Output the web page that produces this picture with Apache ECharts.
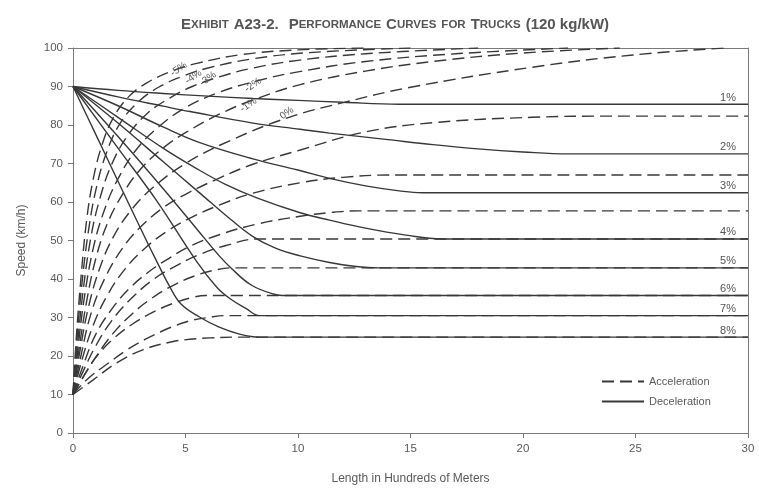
<!DOCTYPE html>
<html>
<head>
<meta charset="utf-8">
<script src="https://cdn.jsdelivr.net/npm/echarts@6/dist/echarts.min.js"></script>
<style>html,body{margin:0;padding:0;background:#fff}#c{width:759px;height:492px}</style>
</head>
<body>
<div id="c"></div>
<script>
// ---- Deceleration curves (solid), speed km/h vs length (hundreds of m)
const decGrades = ['1%','2%','3%','4%','5%','6%','7%','8%'];
const dec1 = [[0,90],[2,89],[4,88.2],[6,87.5],[8,86.9],[10,86.4],[12,85.9],[14.5,85.4],[30,85.4]];
const dec2 = [[0,90],[2,87.3],[4,84.9],[5.2,83.5],[8,80.5],[10.1,78.9],[11.4,77.9],[14,76.2],[16,74.9],[18,73.8],[20,73],[22,72.5],[30,72.5]];
const dec3 = [[0,90],[2,85],[4,79.5],[5.6,75.5],[8,71.2],[10,68.3],[11.5,66],[13,64.2],[14.5,62.9],[15.5,62.4],[30,62.4]];
const dec4 = [[0,90],[2,82],[4,74],[5.4,69],[6.8,64.5],[8.2,61],[10.1,57.2],[11.4,55.3],[13,53.2],[14.8,51.4],[16.4,50.4],[30,50.4]];
const dec5 = [[0,90],[2,80.5],[4,70.5],[5.6,62.5],[7,55.5],[8,51],[9,48],[10.1,46],[11.4,44.3],[12.5,43.3],[13.6,42.9],[30,42.9]];
const dec6 = [[0,90],[2,77],[4,63.5],[5.5,53],[6.5,46],[7,43],[7.9,38.5],[8.9,36.1],[9.5,35.7],[30,35.7]];
const dec7 = [[0,90],[2,74],[3.7,60.5],[5.5,44.5],[6.4,37.8],[7,34.8],[7.7,32.3],[8.3,30.5],[30,30.5]];
const dec8 = [[0,90],[1,77.7],[2,65.4],[3,53.2],[3.6,46],[4.3,38],[4.8,33.5],[5.6,30.2],[6.5,27.5],[7.4,25.7],[8.3,24.9],[30,24.9]];
const decSeries = [dec1,dec2,dec3,dec4,dec5,dec6,dec7,dec8];

// ---- Acceleration curves (dashed)
const accGrades = ['-5%','-4%','-3%','-2%','-1%','0%','1%','2%','3%','4%','5%','6%','7%','8%'];
const accM5 = [[0,10],[0.15,25],[0.35,40],[0.6,55],[0.9,66],[1.3,75],[1.8,82],[2.5,87.5],[3.3,91],[4.3,93.8],[5.5,96],[7.5,98.3],[10,99.5],[13,100]];
const accM4 = [[0,10],[0.17,24],[0.4,39],[0.7,53],[1.05,64],[1.5,73],[2.1,80.5],[2.9,86],[3.8,89.8],[4.8,92.5],[6,94.8],[8,97.2],[10.5,98.8],[15,100]];
const accM3 = [[0,10],[0.2,23],[0.45,37],[0.8,51],[1.2,61],[1.7,69.5],[2.4,77],[3.3,83],[4.3,87],[5.3,90],[6.5,92.5],[8,94.8],[10,96.8],[13,98.5],[18,100]];
const accM2 = [[0,10],[0.22,22],[0.5,35],[0.9,48],[1.4,58],[2,66],[2.8,73.5],[3.8,79.5],[5,84.5],[6.5,88.5],[8.2,91.5],[10,93.8],[13,96.5],[17,98.5],[22,100]];
const accM1 = [[0,10],[0.25,21],[0.6,34],[1,45],[1.5,54],[2.2,62],[3,68.5],[4,74],[5,78],[6.5,82.8],[8,86.5],[10.1,90.5],[13,94],[16,96.5],[20,98.7],[24.3,100]];
const acc0 = [[0,10],[0.3,21],[0.7,33],[1.2,43],[1.8,51],[2.6,58],[3.5,63.5],[5,70],[7,76],[9.6,82],[12,85.8],[15,89.8],[20.4,95],[24.9,98.2],[29,100]];
const acc1 = [[0,10],[0.35,20],[0.8,31],[1.4,40],[2.2,48],[3,53.5],[4,58.5],[5,62],[6.5,66.2],[8,69.8],[10.1,73.5],[13,78.2],[16,80.6],[20.4,82],[24,82.3],[30,82.3]];
const acc2 = [[0,10],[0.4,19],[0.9,28],[1.5,35.5],[2.3,42.5],[3.2,48],[4.2,52.5],[5.2,55.8],[6.5,59.2],[8,62.3],[10.1,65],[12,66.4],[14,67],[30,67]];
const acc3 = [[0,10],[0.45,17.5],[1,25.5],[1.7,32],[2.5,37.5],[3.4,42],[4.3,45.5],[5.2,48.5],[6.5,51.5],[8.2,54.3],[10.1,56.3],[11.5,57.3],[12.7,57.7],[30,57.7]];
const acc4 = [[0,10],[0.45,16],[1,22.5],[1.7,29],[2.6,35],[3.6,40],[4.6,43.5],[5.6,46.3],[6.8,48.7],[8.2,50.4],[30,50.4]];
const acc5 = [[0,10],[0.5,15],[1.1,20.5],[1.8,26],[2.6,30.8],[3.5,35],[4.5,38.5],[5.5,41],[6.3,42.3],[7.1,42.9],[30,42.9]];
const acc6 = [[0,10],[0.45,14.5],[1,19.5],[1.8,24.5],[2.7,28.5],[3.7,31.8],[4.6,34],[5.3,35.2],[5.9,35.7],[30,35.7]];
const acc7 = [[0,10],[0.3,12],[0.8,14.8],[1.35,17.2],[2.4,21.6],[3.2,24.3],[3.9,26.3],[4.6,28],[5.3,29.3],[6,30],[6.8,30.5],[30,30.5]];
const acc8 = [[0,10],[0.9,13.8],[1.94,18.2],[3.1,21.6],[4.4,23.7],[5.3,24.4],[6.1,24.7],[7.2,24.9],[30,24.9]];
const accSeries = [accM5,accM4,accM3,accM2,accM1,acc0,acc1,acc2,acc3,acc4,acc5,acc6,acc7,acc8];

// Grade labels placed on the downgrade acceleration curves (data coords)
const topLabelSpots = [[4.7,94.5],[5.35,92.5],[6.0,92.0],[8.0,90.4],[7.8,85.2],[9.5,83.1]];

const FONT = "'Liberation Sans','Arimo',sans-serif";
const INK = '#383838';
const AX = '#7a7a7a';
const TXT = '#5a5a5a';

const series = [];
accSeries.forEach((d, i) => {
  const s = {
    name: 'Acceleration', type: 'line', data: d, symbol: 'none', smooth: 0.4,
    lineStyle: { color: INK, width: 1.4, type: [12, 6] }, itemStyle: { color: INK }, z: 2, silent: true
  };
  if (i < topLabelSpots.length) {
    s.markPoint = {
      symbol: 'circle', symbolSize: 0, silent: true,
      data: [{ name: accGrades[i], coord: topLabelSpots[i] }],
      label: { show: true, formatter: '{b}', color: '#555', fontSize: 10, fontFamily: FONT, rotate: 35 }
    };
  }
  series.push(s);
});
decSeries.forEach((d, i) => {
  series.push({
    name: 'Deceleration', type: 'line', data: d, symbol: 'none', smooth: 0.4,
    lineStyle: { color: INK, width: 1.4, type: 'solid' }, itemStyle: { color: INK }, z: 3, silent: true,
    markPoint: {
      symbol: 'circle', symbolSize: 0, silent: true,
      data: [{ name: decGrades[i], coord: d[d.length - 1] }],
      label: { show: true, formatter: '{b}', position: 'top', distance: 1, offset: [-20, 0], color: '#555', fontSize: 11, fontFamily: FONT }
    }
  });
});

const chart = echarts.init(document.getElementById('c'), null, { renderer: 'canvas' });
chart.setOption({
  animation: false,
  backgroundColor: '#fff',
  textStyle: { fontFamily: FONT },
  title: {
    text: '{b|E}{s|XHIBIT} {b|A23-2.}  {b|P}{s|ERFORMANCE} {b|C}{s|URVES} {s|FOR} {b|T}{s|RUCKS} {b|(120 kg/kW)}',
    left: 390, top: 11, textAlign: 'center',
    textStyle: {
      rich: {
        b: { fontSize: 15, color: '#555', fontFamily: FONT },
        s: { fontSize: 11.5, color: '#555', fontFamily: FONT }
      }
    }
  },
  legend: {
    orient: 'vertical', left: 596, top: 371, itemWidth: 42, itemHeight: 12, itemGap: 9,
    data: ['Acceleration', 'Deceleration'],
    itemStyle: { opacity: 0 },
    textStyle: { fontSize: 11, color: TXT, fontFamily: FONT }
  },
  grid: { left: 73, right: 11, top: 48, bottom: 59 },
  xAxis: [{
    type: 'value', min: 0, max: 30, interval: 5,
    name: 'Length in Hundreds of Meters', nameLocation: 'middle', nameGap: 40,
    nameTextStyle: { fontSize: 12, color: TXT, fontFamily: FONT },
    axisLine: { show: true, onZero: false, lineStyle: { color: AX, width: 1 } },
    axisTick: { show: true, length: 5, lineStyle: { color: AX } },
    axisLabel: { color: TXT, fontSize: 11.5, margin: 10, fontFamily: FONT },
    splitLine: { show: false }
  }, {
    type: 'value', min: 0, max: 30, interval: 5, position: 'top',
    axisLine: { show: true, onZero: false, lineStyle: { color: AX, width: 1 } },
    axisTick: { show: false }, axisLabel: { show: false }, splitLine: { show: false }
  }],
  yAxis: [{
    type: 'value', min: 0, max: 100, interval: 10,
    name: 'Speed (km/h)', nameLocation: 'middle', nameGap: 45,
    nameTextStyle: { fontSize: 12, color: TXT, fontFamily: FONT },
    axisLine: { show: true, onZero: false, lineStyle: { color: AX, width: 1 } },
    axisTick: { show: true, length: 5, lineStyle: { color: AX } },
    axisLabel: { color: TXT, fontSize: 11.5, margin: 10, fontFamily: FONT },
    splitLine: { show: false }
  }, {
    type: 'value', min: 0, max: 100, interval: 10, position: 'right',
    axisLine: { show: true, onZero: false, lineStyle: { color: AX, width: 1 } },
    axisTick: { show: false }, axisLabel: { show: false }, splitLine: { show: false }
  }],
  series: series
});
</script>
</body>
</html>
